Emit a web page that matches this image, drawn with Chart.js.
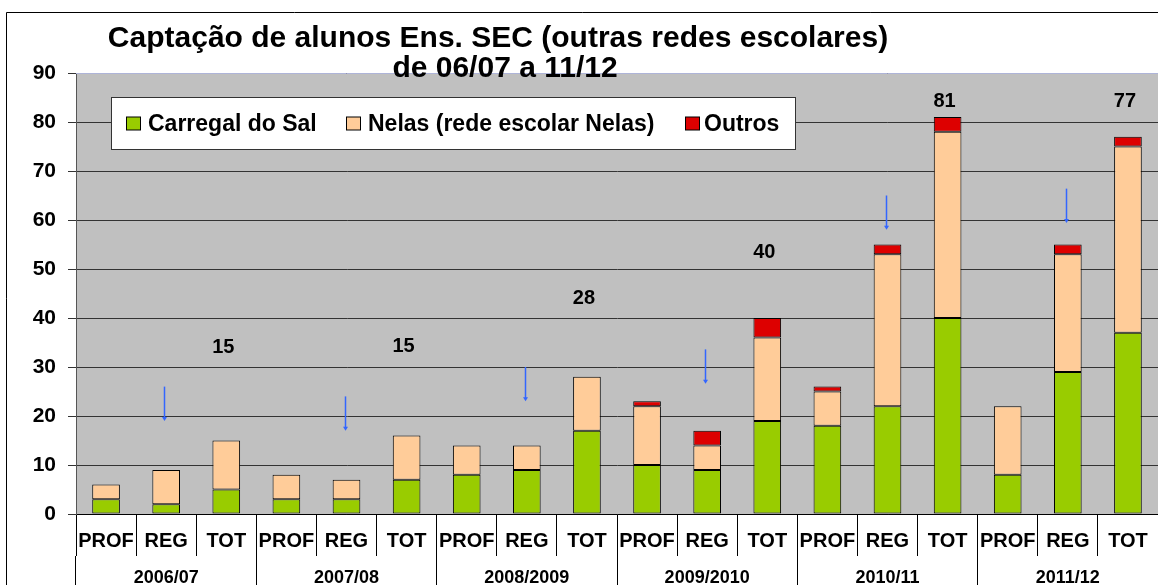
<!DOCTYPE html>
<html>
<head>
<meta charset="utf-8">
<script src="https://cdn.jsdelivr.net/npm/chart.js@4.4.1/dist/chart.umd.min.js"></script>
<style>
  html, body { margin: 0; padding: 0; background: #fff; }
  #wrap { width: 1158px; height: 585px; position: relative; }
</style>
</head>
<body>
<div id="wrap"><canvas id="c" width="1158" height="585"></canvas></div>
<script>
// ---- data ----
const categories = ['PROF','REG','TOT','PROF','REG','TOT','PROF','REG','TOT',
                    'PROF','REG','TOT','PROF','REG','TOT','PROF','REG','TOT'];
const groups = ['2006/07','2007/08','2008/2009','2009/2010','2010/11','2011/12'];
const carregal = [3,2,5, 3,3,7, 8,9,17, 10,9,19, 18,22,40, 8,29,37];
const nelas    = [3,7,10, 5,4,9, 6,5,11, 12,5,17, 7,31,38, 14,24,38];
const outros   = [0,0,0, 0,0,0, 0,0,0, 1,3,4, 1,2,3, 0,2,2];
const totalTexts = ['15','15','28','40','81','77'];
const yTicks = [0,10,20,30,40,50,60,70,80,90];

// annotation placement (value units on y axis)
const totalTextLevel = [34, 34.2, 44, 53.4, 84.2, 84.2];
const arrowTop = [26, 24, 30, 33.6, 65, 66.4];
const arrowLen = 7;

const FONT = "'Liberation Sans', Arial, sans-serif";

const decor = {
  id: 'decor',
  beforeDraw(chart) {
    const {ctx, chartArea: a} = chart;
    ctx.save();
    ctx.fillStyle = '#fff';
    ctx.fillRect(0, 0, chart.width, chart.height);
    // outer frame
    ctx.strokeStyle = '#000';
    ctx.lineWidth = 1;
    ctx.beginPath();
    ctx.moveTo(6.5, chart.height);
    ctx.lineTo(6.5, 12.5);
    ctx.lineTo(chart.width, 12.5);
    ctx.stroke();
    // plot background
    ctx.fillStyle = '#C0C0C0';
    ctx.fillRect(a.left, a.top, a.right - a.left, a.bottom - a.top);
    ctx.restore();
  },
  afterDatasetsDraw(chart) {
    const {ctx, chartArea: a} = chart;
    const xs = chart.scales.x, ys = chart.scales.y;
    ctx.save();
    // top border of plot
    ctx.strokeStyle = '#AEB4D8';
    ctx.beginPath();
    ctx.moveTo(a.left, a.top + 0.5);
    ctx.lineTo(a.right, a.top + 0.5);
    ctx.stroke();

    // arrows above REG bars
    ctx.strokeStyle = '#3366FF';
    ctx.fillStyle = '#3366FF';
    ctx.lineWidth = 1.5;
    arrowTop.forEach((t, g) => {
      const x = Math.round(xs.getPixelForValue(g * 3 + 1)) - 1.5;
      const y0 = ys.getPixelForValue(t);
      const y1 = ys.getPixelForValue(t - arrowLen);
      ctx.beginPath();
      ctx.moveTo(x, y0);
      ctx.lineTo(x, y1 - 3);
      ctx.stroke();
      ctx.beginPath();
      ctx.moveTo(x - 2.5, y1 - 4);
      ctx.lineTo(x + 2.5, y1 - 4);
      ctx.lineTo(x, y1);
      ctx.closePath();
      ctx.fill();
    });

    // total labels
    ctx.fillStyle = '#000';
    ctx.font = 'bold 20px ' + FONT;
    ctx.textAlign = 'center';
    ctx.textBaseline = 'middle';
    totalTexts.forEach((t, g) => {
      const x = xs.getPixelForValue(g * 3 + 2) - 3;
      const y = ys.getPixelForValue(totalTextLevel[g]);
      ctx.fillText(t, x, y);
    });

    // legend box
    const lx = 111.5, ly = 97.5, lw = 684, lh = 52;
    ctx.fillStyle = '#fff';
    ctx.fillRect(lx, ly, lw, lh);
    ctx.strokeStyle = '#333';
    ctx.lineWidth = 1;
    ctx.strokeRect(lx, ly, lw, lh);
    ctx.font = 'bold 23px ' + FONT;
    ctx.textAlign = 'left';
    ctx.textBaseline = 'middle';
    const items = [[126, 148], [346, 368], [685, 704]];
    chart.data.datasets.forEach((ds, i) => {
      const [sx, tx] = items[i];
      const cy = ly + lh / 2;
      ctx.fillStyle = ds.backgroundColor;
      ctx.fillRect(sx + 0.5, cy - 6.5, 14, 13);
      ctx.strokeStyle = '#000';
      ctx.strokeRect(sx + 0.5, cy - 6.5, 14, 13);
      ctx.fillStyle = '#000';
      ctx.fillText(ds.label, tx, cy + 1);
    });

    // title
    ctx.font = 'bold 30px ' + FONT;
    ctx.textAlign = 'center';
    ctx.textBaseline = 'middle';
    ctx.fillText('Captação de alunos Ens. SEC (outras redes escolares)', 498, 39);
    ctx.fillText('de 06/07 a 11/12', 505, 69);
    ctx.restore();
  }
};

new Chart(document.getElementById('c'), {
  type: 'bar',
  data: {
    labels: categories,
    datasets: [
      { label: 'Carregal do Sal', data: carregal, backgroundColor: '#99CC00' },
      { label: 'Nelas (rede escolar Nelas)', data: nelas, backgroundColor: '#FFCC99' },
      { label: 'Outros', data: outros, backgroundColor: '#DD0000' }
    ]
  },
  options: {
    responsive: false,
    animation: false,
    devicePixelRatio: 1,
    layout: { padding: { top: 73, left: 0, right: 0, bottom: 0 } },
    datasets: {
      bar: {
        borderColor: '#000',
        borderWidth: 1,
        borderSkipped: false,
        barPercentage: 0.46,
        categoryPercentage: 1
      }
    },
    plugins: {
      legend: { display: false },
      title: { display: false },
      tooltip: { enabled: false }
    },
    scales: {
      x: {
        stacked: true,
        position: 'bottom',
        weight: 0,
        offset: true,
        grid: { display: true, drawOnChartArea: false, drawTicks: true, tickLength: 42, color: '#000', offset: true, lineWidth: 1 },
        border: { display: true, color: '#000' },
        ticks: { color: '#000', font: { family: FONT, size: 20, weight: 'bold' }, padding: -27, maxRotation: 0, autoSkip: false },
        afterFit(s) { s.height = 42; }
      },
      x2: {
        type: 'category',
        labels: groups,
        position: 'bottom',
        weight: 1,
        offset: true,
        grid: { display: true, drawOnChartArea: false, drawTicks: true, tickLength: 35, color: '#000', offset: true },
        border: { display: false },
        ticks: { color: '#000', font: { family: FONT, size: 18, weight: 'bold' }, padding: -24, maxRotation: 0, autoSkip: false },
        afterFit(s) { s.height = 29; }
      },
      y: {
        stacked: true,
        min: 0,
        max: 90,
        afterBuildTicks(s) { s.ticks = yTicks.map(v => ({ value: v })); },
        grid: { color: '#333', tickLength: 8, lineWidth: 1 },
        border: { color: '#555' },
        ticks: { color: '#000', font: { family: FONT, size: 21, weight: 'bold' }, padding: 12 },
        afterFit(s) { s.width = 76; }
      }
    }
  },
  plugins: [decor]
});
</script>
</body>
</html>
